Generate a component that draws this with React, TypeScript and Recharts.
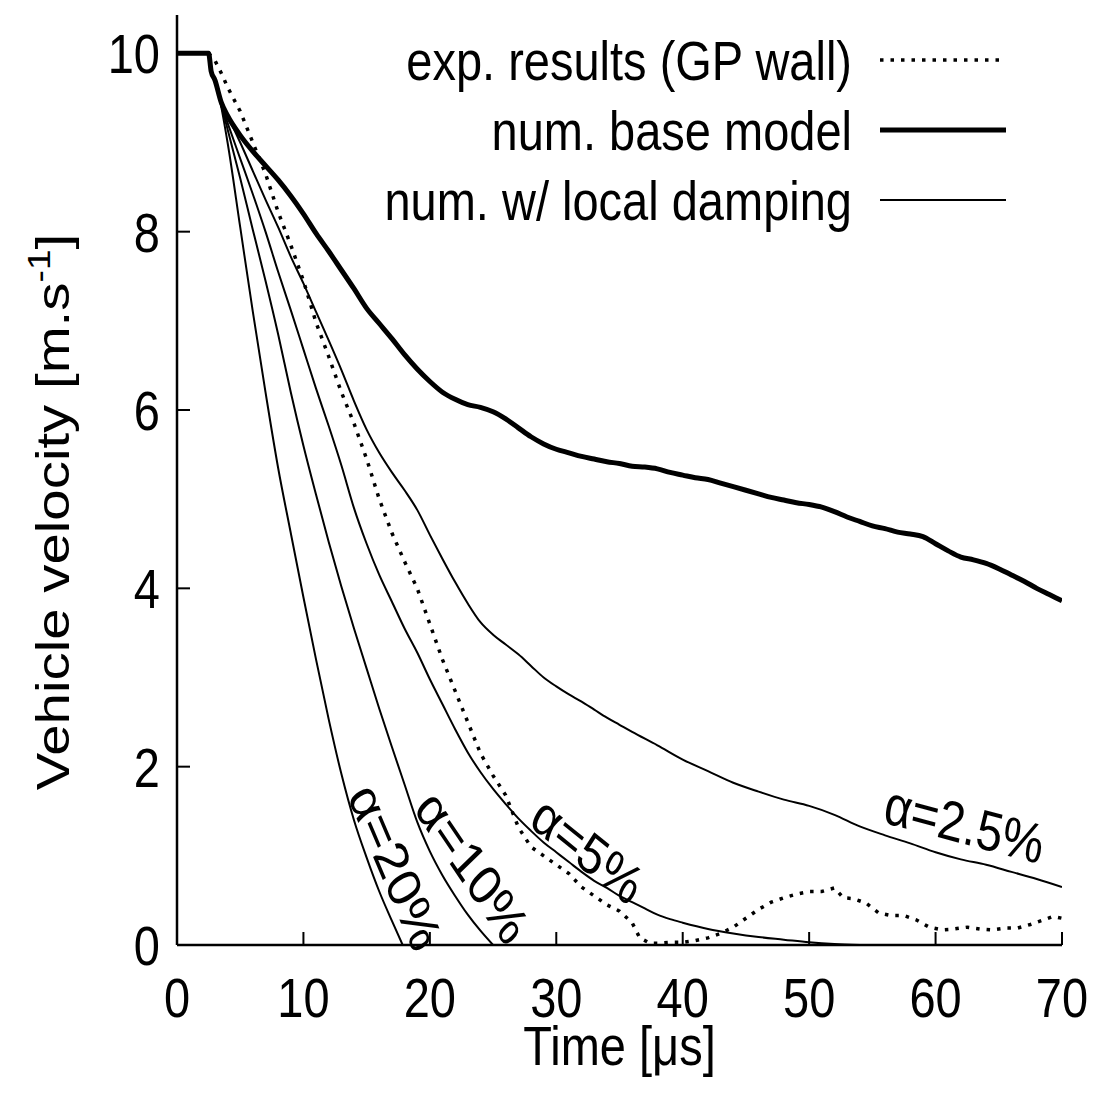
import React from "react";
import { LineChart, Line, XAxis, YAxis, ReferenceDot, Customized } from "recharts";

// time [µs], velocity [m/s]
const expResults: [number, number][] = [
  [0, 10], [2.5, 10], [3, 9.92], [3.6, 9.75], [4, 9.62], [5, 9.35], [6, 9.0], [7, 8.65],
  [8, 8.22], [9, 7.85], [10, 7.45], [11, 6.98], [12, 6.6], [13, 6.2], [14, 5.85], [15, 5.45],
  [16, 5.0], [17, 4.62], [18, 4.3], [19, 4.0], [20, 3.6], [21, 3.2], [22, 2.85], [23, 2.5],
  [24, 2.15], [25, 1.9], [26, 1.68], [27, 1.32], [28, 1.1], [29, 1.0], [30, 0.9], [31, 0.8],
  [32, 0.65], [33, 0.55], [34, 0.45], [35, 0.38], [36, 0.25], [36.6, 0.08], [37.4, 0.02],
  [38, 0.02], [39, 0.03], [40, 0.03], [41, 0.05], [42, 0.08], [43, 0.13], [44, 0.2], [45, 0.3],
  [46, 0.4], [47, 0.48], [48, 0.53], [49, 0.57], [50, 0.6], [51, 0.6], [52, 0.64], [52.7, 0.53],
  [53.5, 0.52], [54.5, 0.47], [55.5, 0.36], [56.5, 0.33], [57.5, 0.33], [58.5, 0.28],
  [59.5, 0.2], [60.5, 0.17], [61.5, 0.18], [62.5, 0.2], [63.5, 0.18], [64.5, 0.17],
  [65.5, 0.19], [66.5, 0.19], [67.5, 0.23], [68.5, 0.28], [69.3, 0.32], [70, 0.3],
];

const baseModel: [number, number][] = [
  [0, 10], [2.5, 10], [2.7, 9.8], [3, 9.7], [3.5, 9.45], [4, 9.3], [5, 9.08], [6, 8.9],
  [7, 8.74], [8, 8.58], [9, 8.4], [10, 8.2], [11, 7.98], [12, 7.78], [13, 7.57], [14, 7.36],
  [15, 7.14], [16, 6.97], [17, 6.8], [18, 6.62], [19, 6.46], [20, 6.32], [21, 6.2], [22, 6.12],
  [23, 6.06], [24, 6.03], [25, 5.98], [26, 5.9], [27, 5.8], [28, 5.7], [29, 5.62], [30, 5.56],
  [31, 5.52], [32, 5.48], [33, 5.45], [34, 5.42], [35, 5.4], [36, 5.37], [37, 5.36], [38, 5.34],
  [39, 5.3], [40, 5.27], [41, 5.24], [42, 5.22], [43, 5.18], [44, 5.14], [45, 5.1], [46, 5.06],
  [47, 5.02], [48, 4.99], [49, 4.96], [50, 4.94], [51, 4.91], [52, 4.86], [53, 4.8], [54, 4.75],
  [55, 4.7], [56, 4.67], [57, 4.63], [58, 4.61], [59, 4.58], [60, 4.5], [61, 4.42], [62, 4.35],
  [63, 4.32], [64, 4.28], [65, 4.22], [66, 4.15], [67, 4.08], [68, 4.0], [69, 3.93], [70, 3.86],
];

const damping20: [number, number][] = [
  [0, 10], [2.5, 10], [2.7, 9.8], [3, 9.7], [3.4, 9.47], [4, 9.0], [5, 8.05], [6, 7.1],
  [7, 6.2], [8, 5.35], [9, 4.62], [10, 3.9], [11, 3.2], [12, 2.53], [13, 1.92], [14, 1.4],
  [15, 0.98], [16, 0.6], [17, 0.27], [17.85, 0],
];

const damping10: [number, number][] = [
  [0, 10], [2.5, 10], [2.7, 9.8], [3, 9.7], [3.4, 9.47], [4, 9.15], [5, 8.6], [6, 8.02],
  [7, 7.45], [8, 6.85], [9, 6.2], [10, 5.6], [11, 5.05], [12, 4.52], [13, 4.02], [14, 3.55],
  [15, 3.1], [16, 2.65], [17, 2.22], [18, 1.8], [19, 1.38], [20, 1.05], [21, 0.78], [22, 0.55],
  [23, 0.34], [24, 0.16], [25, 0],
];

const damping5: [number, number][] = [
  [0, 10], [2.5, 10], [2.7, 9.8], [3, 9.7], [3.4, 9.47], [4, 9.22], [5, 8.82], [6, 8.42],
  [7, 8.0], [8, 7.55], [9, 7.12], [10, 6.68], [11, 6.24], [12, 5.82], [13, 5.38], [14, 4.9],
  [15, 4.5], [16, 4.15], [17, 3.85], [18, 3.55], [19, 3.28], [20, 2.98], [21, 2.7], [22, 2.42],
  [23, 2.16], [24, 1.94], [25, 1.75], [26, 1.58], [27, 1.42], [28, 1.28], [29, 1.15], [30, 1.04],
  [31, 0.93], [32, 0.82], [33, 0.72], [34, 0.64], [35, 0.55], [36, 0.48], [37, 0.41], [38, 0.34],
  [39, 0.29], [40, 0.25], [42, 0.18], [44, 0.13], [46, 0.09], [48, 0.06], [50, 0.03], [52, 0.01],
  [54, 0],
];

const damping2_5: [number, number][] = [
  [0, 10], [2.5, 10], [2.7, 9.8], [3, 9.7], [3.4, 9.47], [4, 9.3], [5, 9.0], [6, 8.68],
  [7, 8.36], [8, 8.05], [9, 7.72], [10, 7.42], [11, 7.1], [12, 6.78], [13, 6.45], [14, 6.1],
  [15, 5.78], [16, 5.52], [17, 5.3], [18, 5.1], [19, 4.88], [20, 4.6], [21, 4.33], [22, 4.07],
  [23, 3.83], [24, 3.62], [25, 3.48], [26, 3.37], [27, 3.26], [28, 3.13], [29, 3.0], [30, 2.9],
  [31, 2.81], [32, 2.73], [33, 2.64], [34, 2.55], [35, 2.47], [36, 2.39], [38, 2.24], [40, 2.08],
  [42, 1.95], [44, 1.82], [46, 1.72], [48, 1.63], [50, 1.56], [52, 1.46], [54, 1.33], [56, 1.23],
  [58, 1.14], [60, 1.04], [62, 0.96], [64, 0.9], [66, 0.82], [68, 0.74], [70, 0.65],
];

const xTicks = [0, 10, 20, 30, 40, 50, 60, 70];
const yTicks = [0, 2, 4, 6, 8, 10];

// label, anchor time, anchor velocity, rotation
const alphaLabels: [string, number, number, number][] = [
  ["α=20%", 17.3, 0.88, 63],
  ["α=10%", 23.4, 0.88, 51],
  ["α=5%", 32.5, 1.07, 34],
  ["α=2.5%", 62.3, 1.36, 12.5],
];

const legendRows = ["exp. results (GP wall)", "num. base model", "num. w/ local damping"];

const toData = (pts: [number, number][]) => pts.map(([t, v]) => ({ t, v }));

const FONT = "'Liberation Sans', Arial, Helvetica, sans-serif";
const FS = 47;
const SY = 1.2; // the source figure is a bit taller than wide
const TICK = 13;

const Txt = ({ x, y, anchor = "middle", rot = 0, children }: any) => (
  <text
    transform={`translate(${x},${y}) scale(1,${SY}) rotate(${rot})`}
    textAnchor={anchor}
    dy="0.355em"
    fontSize={FS}
    fontFamily={FONT}
    fill="#000"
  >
    {children}
  </text>
);

const LeftTick = ({ x, y, payload }: any) => (
  <g>
    <line x1={x} x2={x + TICK} y1={y} y2={y} stroke="#000" strokeWidth={2} />
    <Txt x={x - 17} y={y} anchor="end">{payload.value}</Txt>
  </g>
);

const RightTick = ({ x, y }: any) => (
  <line x1={x} x2={x - TICK} y1={y} y2={y} stroke="#000" strokeWidth={2} />
);

const BottomTick = ({ x, y, payload }: any) => (
  <g>
    <line x1={x} x2={x} y1={y} y2={y - TICK} stroke="#000" strokeWidth={2} />
    <Txt x={x} y={y + 52}>{payload.value}</Txt>
  </g>
);

const TopTick = ({ x, y }: any) => (
  <line x1={x} x2={x} y1={y} y2={y + TICK} stroke="#000" strokeWidth={2} />
);

const XTitle = ({ viewBox }: any) => (
  <Txt x={viewBox.x + viewBox.width / 2} y={viewBox.y + 100}>Time [μs]</Txt>
);

const YTitle = () => (
  <text
    transform={`translate(52,512) rotate(-90) scale(${SY},1)`}
    textAnchor="middle"
    dy="0.355em"
    fontSize={FS}
    fontFamily={FONT}
    fill="#000"
  >
    Vehicle velocity [m.s
    <tspan dy={-19} fontSize={31}>-1</tspan>
    <tspan dy={19}>]</tspan>
  </text>
);

const AlphaText = ({ viewBox, label, rot }: any) => {
  const cx = viewBox.x + viewBox.width / 2;
  const cy = viewBox.y + viewBox.height / 2;
  return (
    <Txt x={cx} y={cy} rot={rot}>{label}</Txt>
  );
};

const LegendBox = () => {
  const ys = [60, 130, 200];
  return (
    <g>
      {legendRows.map((label, i) => (
        <Txt key={label} x={852} y={ys[i]} anchor="end">{label}</Txt>
      ))}
      <line x1={880} x2={1006} y1={ys[0]} y2={ys[0]} stroke="#000" strokeWidth={3.5} strokeDasharray="3.5 7" />
      <line x1={880} x2={1006} y1={ys[1]} y2={ys[1]} stroke="#000" strokeWidth={5} />
      <line x1={880} x2={1006} y1={ys[2]} y2={ys[2]} stroke="#000" strokeWidth={2} />
    </g>
  );
};

export default function App() {
  return (
    <div style={{ position: "absolute", left: 0, top: 0, background: "#fff" }}>
      <LineChart width={1095} height={1095} margin={{ top: 15, right: 33, bottom: 0, left: 0 }}>
        <XAxis
          xAxisId="b"
          dataKey="t"
          type="number"
          domain={[0, 70]}
          ticks={xTicks}
          allowDataOverflow
          height={150}
          tickSize={0}
          tickMargin={0}
          tick={<BottomTick />}
          axisLine={{ stroke: "#000", strokeWidth: 2.5 }}
          label={<XTitle />}
        />
        <XAxis
          xAxisId="top"
          orientation="top"
          dataKey="t"
          type="number"
          domain={[0, 70]}
          ticks={xTicks}
          height={0}
          tickSize={0}
          tickMargin={0}
          tick={<TopTick />}
          axisLine={{ stroke: "#000", strokeWidth: 2.5 }}
        />
        <YAxis
          yAxisId="l"
          type="number"
          domain={[0, 10.43]}
          ticks={yTicks}
          allowDataOverflow
          width={177}
          tickSize={0}
          tickMargin={0}
          tick={<LeftTick />}
          axisLine={{ stroke: "#000", strokeWidth: 2.5 }}
        />
        <YAxis
          yAxisId="r"
          orientation="right"
          type="number"
          domain={[0, 10.43]}
          ticks={yTicks}
          width={0}
          tickSize={0}
          tickMargin={0}
          tick={<RightTick />}
          axisLine={{ stroke: "#000", strokeWidth: 2.5 }}
        />
        {[damping20, damping10, damping5, damping2_5].map((d, i) => (
          <Line
            key={i}
            xAxisId="b"
            yAxisId="l"
            data={toData(d)}
            dataKey="v"
            type="monotone"
            stroke="#000"
            strokeWidth={2}
            dot={false}
            isAnimationActive={false}
          />
        ))}
        <Line
          xAxisId="b"
          yAxisId="l"
          data={toData(expResults)}
          dataKey="v"
          type="linear"
          stroke="#000"
          strokeWidth={3.5}
          strokeDasharray="3.5 7"
          dot={false}
          isAnimationActive={false}
        />
        <Line
          xAxisId="b"
          yAxisId="l"
          data={toData(baseModel)}
          dataKey="v"
          type="monotone"
          stroke="#000"
          strokeWidth={5}
          dot={false}
          isAnimationActive={false}
        />
        {alphaLabels.map(([text, t, v, rot]) => (
          <ReferenceDot
            key={text}
            xAxisId="b"
            yAxisId="l"
            x={t}
            y={v}
            r={1}
            fill="none"
            stroke="none"
            label={<AlphaText label={text} rot={rot} />}
          />
        ))}
        <Customized component={<YTitle />} />
        <Customized component={<LegendBox />} />
      </LineChart>
    </div>
  );
}
